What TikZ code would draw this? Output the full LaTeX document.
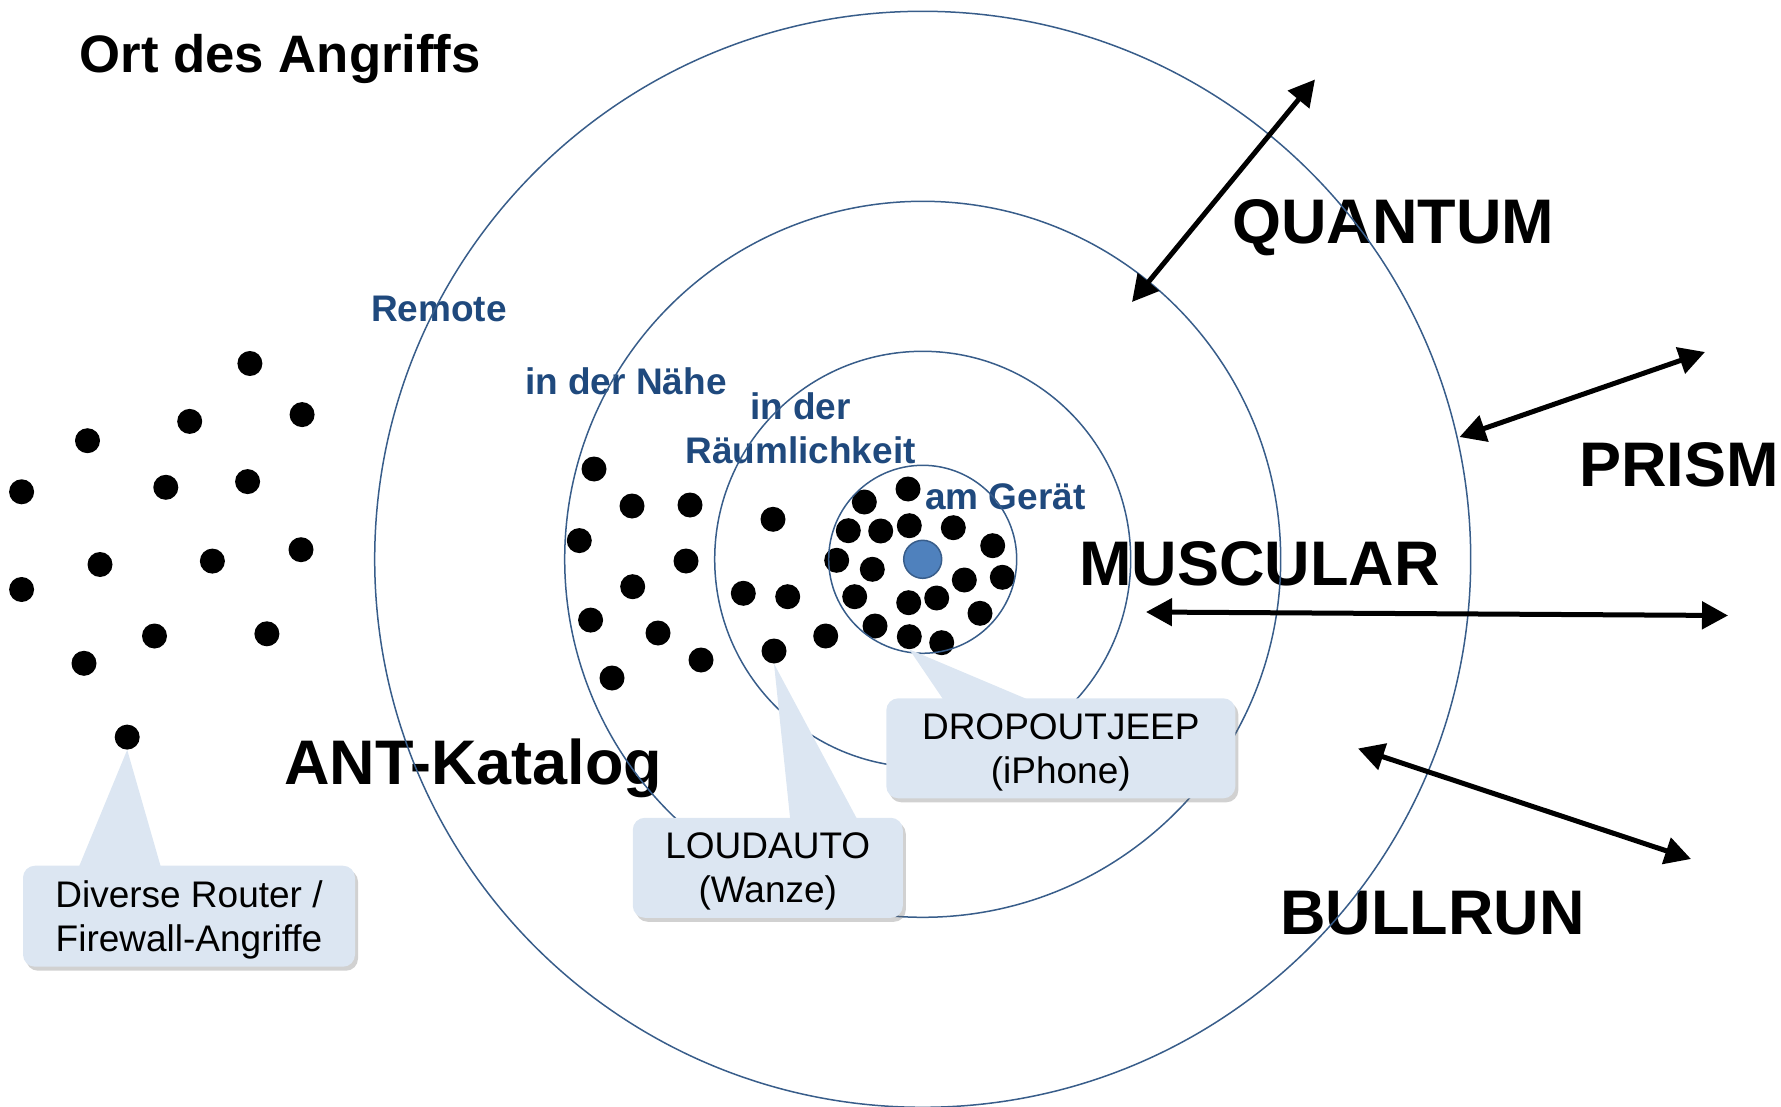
\documentclass[tikz,border=0pt]{standalone}
\usepackage{fontspec}
\setmainfont{Liberation Sans}
\usetikzlibrary{arrows.meta,calc,shadows}
\definecolor{ringblue}{RGB}{56,93,138}
\definecolor{labelblue}{RGB}{31,73,125}
\definecolor{dotblue}{RGB}{79,129,189}
\definecolor{calloutfill}{RGB}{220,230,242}
\begin{document}
\begin{tikzpicture}[x=1pt,y=-1pt,>={Triangle[length=26pt,width=27pt]},
        font=\fontsize{37}{44}\selectfont,
        dot/.style={circle,fill=black,inner sep=0pt,minimum size=25pt},
        ring/.style={draw=ringblue,line width=1.5pt},
        zone/.style={text=labelblue,font=\fontsize{37}{44}\selectfont\bfseries,inner sep=0pt,align=center},
        tool/.style={font=\fontsize{63}{70}\selectfont\bfseries,inner sep=0pt},
        link/.style={<->,line width=5pt},
        callout/.style={fill=calloutfill,rounded corners=12pt,align=center,minimum height=100pt,text depth=0pt,
            drop shadow={shadow xshift=3pt,shadow yshift=-4pt,opacity=.3,fill=black!60}}]
    \def\cx{922.7} \def\cy{559.3}
    \useasboundingbox (0,0) rectangle (1781,1107);
    %===========================================
    \node[anchor=base west,inner sep=0pt,font=\fontsize{52.7}{60}\selectfont\bfseries] (title) at (79.5,73) {Ort des Angriffs};
    \node[zone,anchor=base west] (remote) at (371,322) {Remote};
    \node[zone,anchor=base west] (near) at (525,394) {in der Nähe};
    \node[zone] (room) at (800.5,428) {in der\\Räumlichkeit};
    \node[zone,anchor=base west] (device) at (925,509.3) {am Gerät};
    \node[tool,anchor=base west] (quantum) at (1232,244) {QUANTUM};
    \node[tool,anchor=base west] (prism) at (1579,486) {PRISM};
    \node[tool,anchor=base west] (muscular) at (1079,585) {MUSCULAR};
    \node[tool,anchor=base west] (ant) at (284,784) {ANT-Katalog};
    \node[tool,anchor=base west] (bullrun) at (1280,934) {BULLRUN};
    %===========================================
    \foreach \p [count=\i] in {(249.9,363.5),(302.1,414.6),(189.7,421.4),(87.5,440.7),(21.6,491.8),
        (165.8,487.3),(247.6,481.6),(100,564.5),(212.4,561.1),(301,549.7),(21.6,589.5),
        (154.5,636),(266.9,633.8),(84,663.3),(127.2,737.1)}
        \node[dot] (r\i) at \p {};
    \foreach \p [count=\i] in {(594,469),(632,506),(690,505),(579.3,540.6),(686,561),
        (632.7,586.7),(590.6,620.1),(658,633),(701,660),(612,678)}
        \node[dot] (n\i) at \p {};
    \foreach \p [count=\i] in {(773,519.3),(743.3,593.3),(787.7,596.7),(774,651),(825.7,636)}
        \node[dot] (k\i) at \p {};
    \foreach \p [count=\i] in {(864.3,502),(908,489),(848.3,530.7),(880.7,531),(909.3,525.7),
        (953.3,527.7),(992.7,545.7),(836.7,560.3),(872.3,569.3),(964.3,580),(1002.3,577.3),
        (854.7,596.7),(908.7,602.7),(936.7,598),(980,613.3),(875,626),(909.3,636.7),(941.7,642.7)}
        \node[dot] (g\i) at \p {};
    \node[circle,fill=dotblue,draw=ringblue,line width=1.5pt,inner sep=0pt,minimum size=38pt] (phone) at (\cx,\cy) {};
    \foreach \r in {94,208,358,548}
        \draw[ring] (phone.center) circle[radius=\r];
    %===========================================
    \coordinate (qa) at (1315,79.5);   \coordinate (qb) at (1132,302);
    \coordinate (pa) at (1705,352);    \coordinate (pb) at (1459.5,437);
    \coordinate (ma) at (1146,612);    \coordinate (mb) at (1728,615.5);
    \coordinate (ba) at (1358,748.5);  \coordinate (bb) at (1691,859);
    \draw[link] (qa) -- (qb);
    \draw[link] (pa) -- (pb);
    \draw[link] (ma) -- (mb);
    \draw[link] (ba) -- (bb);
    %===========================================
    \node[callout,minimum width=332pt,minimum height=101pt] (router) at (189,916.2) {Diverse Router /\\Firewall-Angriffe};
    \node[callout,minimum width=270pt] (loudauto) at (767.8,867.8) {LOUDAUTO\\(Wanze)};
    \node[callout,minimum width=349pt] (dropout) at (1060.8,748.3) {DROPOUTJEEP\\(iPhone)};
    \fill[calloutfill] ($(router.north west)!1/6!(router.north east)+(0,3)$) -- (r15.south)
        -- ($(router.north west)!5/12!(router.north east)+(0,3)$) -- cycle;
    \fill[calloutfill] ($(loudauto.north west)!7/12!(loudauto.north east)+(0,3)$) -- (k4.south)
        -- ($(loudauto.north west)!5/6!(loudauto.north east)+(0,3)$) -- cycle;
    \fill[calloutfill] ($(dropout.north west)!1/6!(dropout.north east)+(0,3)$) -- (g17.south)
        -- ($(dropout.north west)!5/12!(dropout.north east)+(0,3)$) -- cycle;
\end{tikzpicture}
\end{document}
